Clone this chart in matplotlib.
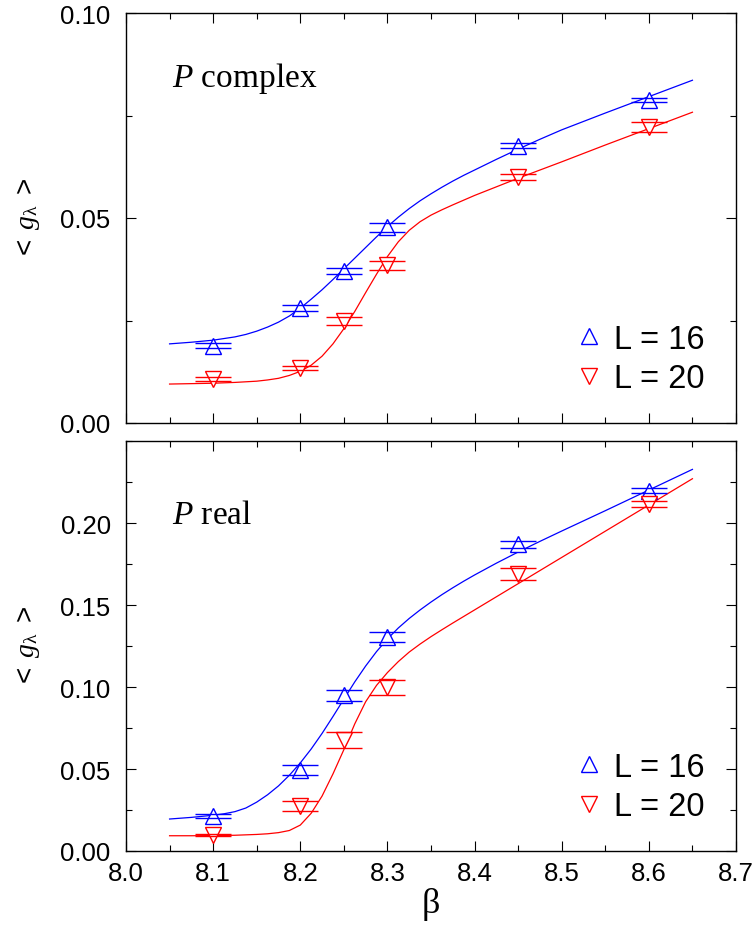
import matplotlib
matplotlib.use("Agg")
import matplotlib.pyplot as plt
from matplotlib.ticker import MultipleLocator, FormatStrFormatter
from matplotlib.lines import Line2D

# measured points
beta = [8.10, 8.20, 8.25, 8.30, 8.45, 8.60]

# P complex
g16_c = [0.0189, 0.0281, 0.0371, 0.0477, 0.0676, 0.0787]
e16_c = [0.0007, 0.0007, 0.0008, 0.0010, 0.0006, 0.0005]
g20_c = [0.0107, 0.0135, 0.0249, 0.0385, 0.0600, 0.0721]
e20_c = [0.0005, 0.0005, 0.0010, 0.0011, 0.0007, 0.0012]

# P real
g16_r = [0.0215, 0.0493, 0.0950, 0.1305, 0.1870, 0.2198]
e16_r = [0.0012, 0.0030, 0.0034, 0.0030, 0.0020, 0.0013]
g20_r = [0.0096, 0.0272, 0.0675, 0.0999, 0.1690, 0.2116]
e20_r = [0.0006, 0.0030, 0.0049, 0.0046, 0.0036, 0.0020]

# fitted curves
fit16_c_b = [8.05, 8.075, 8.10, 8.125, 8.1375, 8.15, 8.1625, 8.175, 8.1875, 8.20,
             8.2125, 8.225, 8.2375, 8.25, 8.2625, 8.275, 8.2875, 8.30, 8.3125, 8.325,
             8.3375, 8.35, 8.3625, 8.375, 8.3875, 8.40, 8.425, 8.45, 8.475, 8.50,
             8.55, 8.60, 8.65]
fit16_c_g = [0.0193, 0.0197, 0.0202, 0.0210, 0.0216, 0.0224, 0.0234, 0.0246, 0.0261, 0.0280,
             0.0302, 0.0325, 0.0350, 0.0376, 0.0402, 0.0428, 0.0454, 0.0479, 0.0502, 0.0523,
             0.0542, 0.0559, 0.0575, 0.0590, 0.0604, 0.0617, 0.0643, 0.0668, 0.0692, 0.0715,
             0.0756, 0.0796, 0.0836]

fit20_c_b = [8.05, 8.10, 8.125, 8.15, 8.1625, 8.175, 8.1875, 8.20, 8.2125, 8.225,
             8.2375, 8.25, 8.2625, 8.275, 8.2875, 8.30, 8.3125, 8.325, 8.3375, 8.35,
             8.3625, 8.375, 8.40, 8.425, 8.45, 8.50, 8.55, 8.60, 8.65]
fit20_c_g = [0.0095, 0.0097, 0.0099, 0.0102, 0.0105, 0.0109, 0.0116, 0.0126, 0.0141, 0.0163,
             0.0193, 0.0230, 0.0272, 0.0318, 0.0363, 0.0406, 0.0442, 0.0470, 0.0491, 0.0507,
             0.0520, 0.0532, 0.0555, 0.0576, 0.0597, 0.0637, 0.0678, 0.0718, 0.0758]

fit16_r_b = [8.05, 8.075, 8.10, 8.1125, 8.125, 8.1375, 8.15, 8.1625, 8.175, 8.1875,
             8.20, 8.2125, 8.225, 8.2375, 8.25, 8.2625, 8.275, 8.2875, 8.30, 8.3125,
             8.325, 8.3375, 8.35, 8.3625, 8.375, 8.3875, 8.40, 8.425, 8.45, 8.475,
             8.50, 8.525, 8.55, 8.575, 8.60, 8.625, 8.65]
fit16_r_g = [0.0195, 0.0205, 0.0218, 0.0227, 0.0240, 0.0262, 0.0298, 0.0343, 0.0397, 0.0462,
             0.0537, 0.0622, 0.0717, 0.0820, 0.0926, 0.1031, 0.1128, 0.1216, 0.1293, 0.1360,
             0.1418, 0.1470, 0.1518, 0.1563, 0.1605, 0.1645, 0.1683, 0.1755, 0.1823, 0.1888,
             0.1951, 0.2013, 0.2075, 0.2138, 0.2201, 0.2264, 0.2327]

fit20_r_b = [8.05, 8.075, 8.10, 8.125, 8.15, 8.1625, 8.175, 8.1875, 8.20, 8.2125,
             8.225, 8.2375, 8.25, 8.2625, 8.275, 8.2875, 8.30, 8.3125, 8.325, 8.3375,
             8.35, 8.3625, 8.375, 8.40, 8.425, 8.45, 8.50, 8.55, 8.60, 8.65]
fit20_r_g = [0.0093, 0.0093, 0.0094, 0.0096, 0.0101, 0.0105, 0.0112, 0.0125, 0.0158, 0.0230,
             0.0335, 0.0470, 0.0618, 0.0775, 0.0910, 0.1010, 0.1088, 0.1155, 0.1213, 0.1262,
             0.1307, 0.1349, 0.1390, 0.1470, 0.1550, 0.1630, 0.1790, 0.1950, 0.2110, 0.2270]

BLUE = "#0000ff"
RED = "#ff0000"

plt.rcParams["font.family"] = "Liberation Sans"
plt.rcParams["mathtext.fontset"] = "custom"
plt.rcParams["mathtext.rm"] = "Liberation Serif"
plt.rcParams["mathtext.it"] = "Liberation Serif:italic"
plt.rcParams["mathtext.sf"] = "Liberation Sans"

fig = plt.figure(figsize=(7.55, 9.28), dpi=100)
ax1 = fig.add_axes([126 / 755, 1 - 424 / 928, 610 / 755, 410 / 928])
ax2 = fig.add_axes([126 / 755, 1 - 852 / 928, 610 / 755, 410 / 928])


def panel(ax, g16, e16, g20, e20, f16b, f16g, f20b, f20g):
    ax.plot(f16b, f16g, color=BLUE, lw=0.9, zorder=2)
    ax.plot(f20b, f20g, color=RED, lw=0.9, zorder=2)
    ax.plot(beta, g16, ls="none", marker="^", ms=11, mfc="white", mec=BLUE, mew=1.0, zorder=3)
    ax.plot(beta, g20, ls="none", marker="v", ms=11, mfc="white", mec=RED, mew=1.0, zorder=3)
    ax.errorbar(beta, g16, yerr=e16, fmt="none", ecolor=BLUE, elinewidth=0,
                capsize=13, capthick=1.0, zorder=4)
    ax.errorbar(beta, g20, yerr=e20, fmt="none", ecolor=RED, elinewidth=0,
                capsize=13, capthick=1.0, zorder=4)

    ax.set_xlim(8.0, 8.7)
    ax.xaxis.set_major_locator(MultipleLocator(0.1))
    ax.xaxis.set_minor_locator(MultipleLocator(0.05))
    ax.xaxis.set_major_formatter(FormatStrFormatter("%.1f"))
    ax.yaxis.set_major_formatter(FormatStrFormatter("%.2f"))
    ax.yaxis.set_minor_locator(MultipleLocator(0.025))
    ax.tick_params(which="both", direction="in", top=True, right=True,
                   width=0.8, labelsize=18.5)
    ax.tick_params(which="major", length=7)
    ax.tick_params(which="minor", length=4)
    ax.tick_params(axis="y", pad=11)
    ax.tick_params(axis="x", pad=7)
    for s in ax.spines.values():
        s.set_linewidth(1.0)

    handles = [
        Line2D([], [], ls="none", marker="^", ms=11, mfc="none", mec=BLUE, mew=1.0),
        Line2D([], [], ls="none", marker="v", ms=11, mfc="none", mec=RED, mew=1.0),
    ]
    ax.legend(handles, ["L = 16", "L = 20"], loc="lower right",
              bbox_to_anchor=(0.975, 0.03), frameon=False, fontsize=23.5,
              handlelength=0.8, handletextpad=0.35, labelspacing=0.27, borderpad=0)


panel(ax1, g16_c, e16_c, g20_c, e20_c, fit16_c_b, fit16_c_g, fit20_c_b, fit20_c_g)
panel(ax2, g16_r, e16_r, g20_r, e20_r, fit16_r_b, fit16_r_g, fit20_r_b, fit20_r_g)

ax1.set_ylim(0.0, 0.10)
ax1.set_yticks([0.0, 0.05, 0.10])
ax1.tick_params(axis="x", labelbottom=False)

ax2.set_ylim(0.0, 0.25)
ax2.set_yticks([0.0, 0.05, 0.10, 0.15, 0.20])

ax1.text(0.075, 0.823, r"$P$ complex", transform=ax1.transAxes,
         family="Liberation Serif", fontsize=24)
ax2.text(0.075, 0.80, r"$P$ real", transform=ax2.transAxes,
         family="Liberation Serif", fontsize=24)

ylab = r"$\mathsf{<}\ g_{\mathrm{\lambda}}\ \mathsf{>}$"
fig.text(28 / 755, 1 - 219 / 928, ylab, rotation=90, ha="center", va="center", fontsize=20)
fig.text(28 / 755, 1 - 647 / 928, ylab, rotation=90, ha="center", va="center", fontsize=20)

ax2.set_xlabel("β", family="Liberation Serif", fontsize=26, labelpad=2)

fig.savefig("out.png", dpi=100)
